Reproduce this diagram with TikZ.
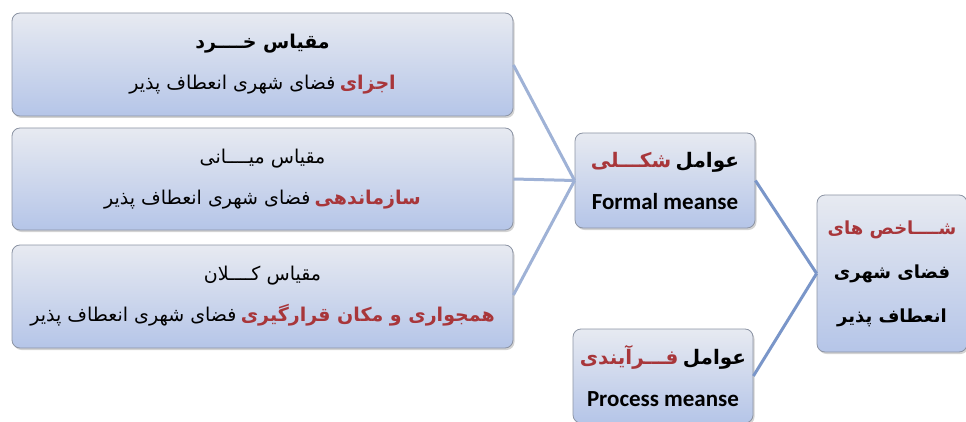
\documentclass[tikz,border=0pt]{standalone}
\usepackage{fontspec}
\setmainfont{Carlito}
\newfontfamily\fa[Script=Arabic]{DejaVu Sans}
\TeXXeTstate=1
\usetikzlibrary{shadows}
\definecolor{redtxt}{HTML}{A8363A}
\definecolor{boxtop}{HTML}{E7EAF1}
\definecolor{boxbot}{HTML}{B5C5E8}
\definecolor{boxdraw}{HTML}{8C94A4}
\definecolor{linkA}{HTML}{9FB2D6}
\definecolor{linkB}{HTML}{7A96C9}
\newcommand\rtl[1]{{\fa\beginR #1\endR}}
\newcommand\redw[1]{\textcolor{redtxt}{\rtl{#1}}}
\newcommand\eng[1]{{\fontsize{23}{42}\selectfont #1}}
\begin{document}
\begin{tikzpicture}[x=1pt,y=-1pt,
  boxnode/.style={draw=boxdraw, line width=0.8pt, rounded corners=8pt,
    top color=boxtop, bottom color=boxbot,
    drop shadow={opacity=0.35, shadow xshift=1.5pt, shadow yshift=-2pt},
    align=center, inner sep=0pt},
  wide/.style={boxnode, minimum width=501pt, minimum height=103pt,
    font=\fontsize{19}{41}\selectfont},
  mid/.style={boxnode, minimum width=180pt, minimum height=95pt,
    font=\bfseries\fontsize{20}{42}\selectfont},
  linkl/.style={draw=linkA, line width=3pt},
  linkr/.style={draw=linkB, line width=3pt}]
\useasboundingbox (0,0) rectangle (966,422);

\node[wide] (b1) at (262.5,64.5)
  {{\bfseries\rtl{مقیاس خــــرد}}\\
   \rtl{فضای شهری انعطاف پذیر}\ {\bfseries\redw{اجزای}}};
\node[wide, minimum height=102pt] (b2) at (262.5,179)
  {\rtl{مقیاس میــــانی}\\
   \rtl{فضای شهری انعطاف پذیر}\ {\bfseries\redw{سازماندهی}}};
\node[wide] (b3) at (262.5,296.5)
  {\rtl{مقیاس کــــلان}\\
   \rtl{فضای شهری انعطاف پذیر}\ {\bfseries\redw{همجواری و مکان قرارگیری}}};

\node[mid] (formal) at (665,180.5)
  {\redw{شکـــلی}\ \rtl{عوامل}\\ \eng{Formal meanse}};
\node[mid, minimum height=94pt] (process) at (663,376)
  {\redw{فـــرآیندی}\ \rtl{عوامل}\\ \eng{Process meanse}};

\node[boxnode, minimum width=150pt, minimum height=157pt,
  font=\bfseries\fontsize{18}{44}\selectfont] (final) at (892,273.5)
  {\redw{شــــاخص های}\\ \rtl{فضای شهری}\\ \rtl{انعطاف پذیر}};

\draw[linkl] (b1.east |- 0,65) -- (formal.west);
\draw[linkl] (b2.east) -- (formal.west);
\draw[linkl] (b3.east |- 0,295) -- (formal.west);
\draw[linkr] (formal.east) -- (final.west);
\draw[linkr] (process.east) -- (final.west);
\end{tikzpicture}
\end{document}
